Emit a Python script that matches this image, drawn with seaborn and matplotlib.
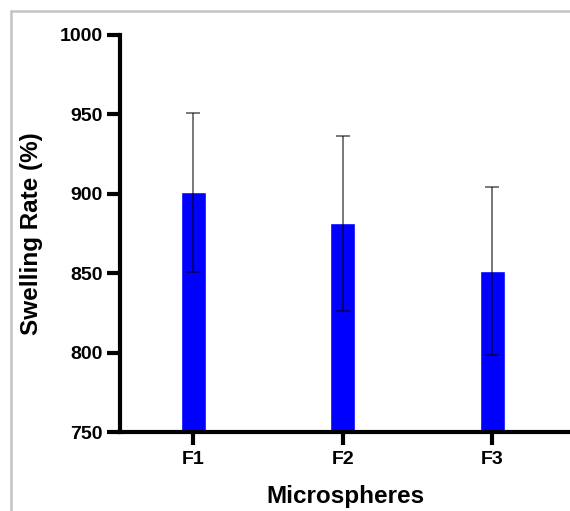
import numpy as np
import pandas as pd
import matplotlib
matplotlib.use("Agg")
import matplotlib.pyplot as plt
import seaborn as sns
from matplotlib.lines import Line2D

# data
groups = ["F1", "F2", "F3"]
swelling = [901, 881.5, 851.5]
swelling_sd = [50, 55, 53]


def main():
    sns.set_style("ticks")
    plt.rcParams['font.family'] = ['Liberation Sans', 'DejaVu Sans']

    df = pd.DataFrame({"group": groups, "swelling": swelling})

    fig = plt.figure(figsize=(5.70, 5.11), dpi=100)
    ax = fig.add_axes([120 / 570, 1 - 432.3 / 511, 450 / 570, 397.6 / 511])

    sns.barplot(data=df, x="group", y="swelling", color="#0000ff",
                saturation=1, width=0.17, errorbar=None, ax=ax)
    ax.errorbar(np.arange(len(groups)), swelling, yerr=swelling_sd,
                fmt="none", ecolor=(0, 0, 0, 0.62), elinewidth=1.2,
                capsize=5.3, capthick=1.2, zorder=3)

    ax.set_ylim(750, 1000)
    ax.set_xlim(-0.49, 2.52)
    ax.set_yticks(np.arange(750, 1001, 50))

    sns.despine(ax=ax)
    for side in ("left", "bottom"):
        ax.spines[side].set_linewidth(3)
        ax.spines[side].set_color("black")
    ax.tick_params(axis="both", length=9.5, width=3, color="black",
                   labelcolor="black", labelsize=14, pad=3)
    ax.tick_params(axis="x", pad=4)
    for lab in ax.get_xticklabels() + ax.get_yticklabels():
        lab.set_fontweight("bold")

    ax.set_xlabel("Microspheres", fontsize=17.5, fontweight="bold",
                  color="black", labelpad=12)
    ax.set_ylabel("Swelling Rate (%)", fontsize=17.5, fontweight="bold",
                  color="black", labelpad=12)

    # gray frame around the figure (top and left edges)
    frame_kw = dict(color="#c4c4c4", linewidth=1.8, transform=fig.transFigure)
    fig.add_artist(Line2D([11 / 570, 1.0], [1 - 11 / 511, 1 - 11 / 511], **frame_kw))
    fig.add_artist(Line2D([11 / 570, 11 / 570], [0.0, 1 - 11 / 511], **frame_kw))

    fig.savefig("out.png", dpi=100)


if __name__ == '__main__':
    main()
